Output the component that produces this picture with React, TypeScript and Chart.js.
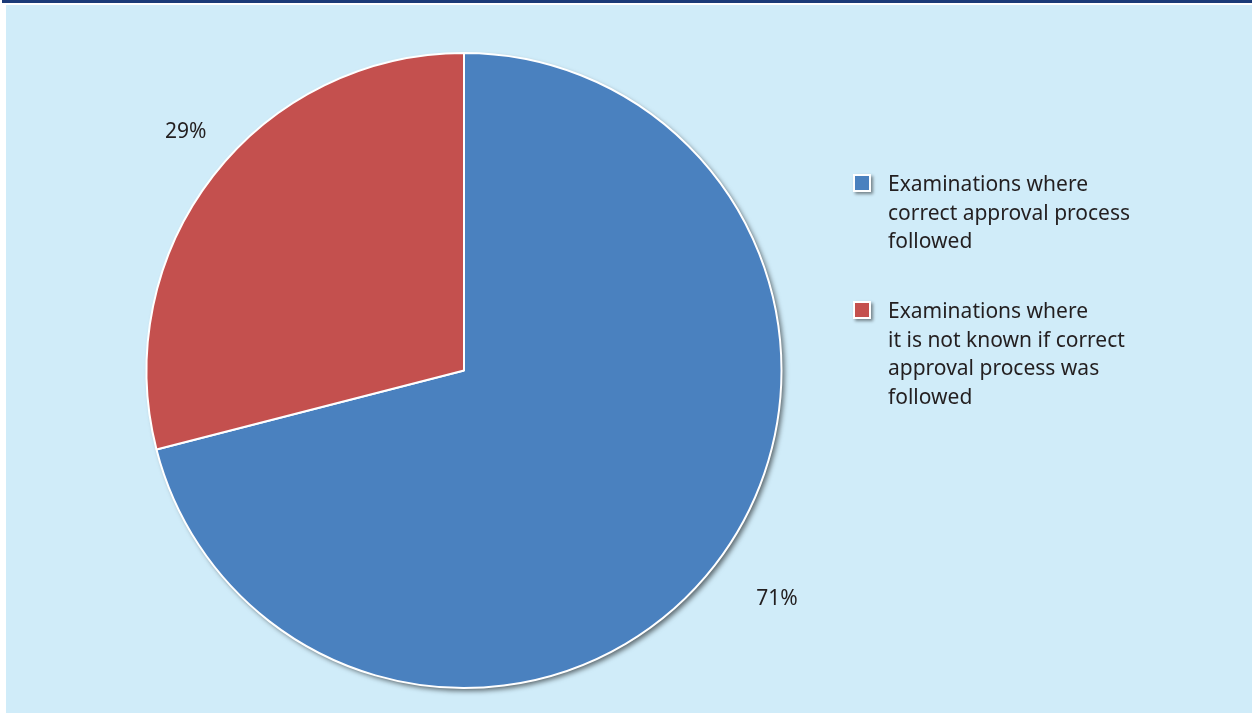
import React, { useEffect, useRef } from "react";
import { Chart, registerables } from "chart.js";

Chart.register(...registerables);

const categories: string[][] = [
  ["Examinations where", "correct approval process", "followed"],
  ["Examinations where", "it is not known if correct", "approval process was", "followed"],
];
const values: number[] = [71, 29];
const valueLabels: string[] = ["71%", "29%"];
const colors: string[] = ["#4A81BF", "#C4504E"];

const FONT = "'Noto Sans', sans-serif";
const LABEL_RADIUS_FACTORS = [1.22, 1.155];
const LABEL_ANGLE_NUDGE = [-0.03, 0.05];

const shadowPlugin = {
  id: "pieShadow",
  beforeDatasetsDraw(chart: any) {
    const meta = chart.getDatasetMeta(0);
    const arc = meta.data[0];
    if (!arc) return;
    const { x, y, outerRadius } = arc.getProps(["x", "y", "outerRadius"], true);
    const ctx = chart.ctx;
    ctx.save();
    ctx.shadowColor = "rgba(0,0,0,0.55)";
    ctx.shadowBlur = 5;
    ctx.shadowOffsetX = 3;
    ctx.shadowOffsetY = 3;
    ctx.beginPath();
    ctx.arc(x, y, outerRadius, 0, Math.PI * 2);
    ctx.fillStyle = "#ffffff";
    ctx.fill();
    ctx.restore();
  },
};

const outsideLabels = {
  id: "outsideLabels",
  afterDatasetsDraw(chart: any) {
    const meta = chart.getDatasetMeta(0);
    const ctx = chart.ctx;
    ctx.save();
    ctx.font = `21px ${FONT}`;
    ctx.fillStyle = "#231f20";
    ctx.textAlign = "center";
    ctx.textBaseline = "middle";
    meta.data.forEach((arc: any, i: number) => {
      const { x, y, startAngle, endAngle, outerRadius } = arc.getProps(
        ["x", "y", "startAngle", "endAngle", "outerRadius"],
        true
      );
      const mid = (startAngle + endAngle) / 2 + LABEL_ANGLE_NUDGE[i];
      const r = outerRadius * LABEL_RADIUS_FACTORS[i];
      ctx.fillText(valueLabels[i], x + Math.cos(mid) * r, y + Math.sin(mid) * r);
    });
    ctx.restore();
  },
};

export default function App() {
  const ref = useRef<HTMLCanvasElement | null>(null);
  useEffect(() => {
    document.body.style.margin = "0";
    if (!ref.current) return;
    const chart = new Chart(ref.current, {
      type: "pie",
      data: {
        labels: categories.map((c) => c.join(" ")),
        datasets: [
          {
            data: values,
            backgroundColor: colors,
            borderColor: "#ffffff",
            borderWidth: 2,
          },
        ],
      },
      options: {
        animation: false,
        responsive: false,
        maintainAspectRatio: false,
        layout: { padding: { left: 139, top: 47, right: 469, bottom: 24 } },
        plugins: {
          legend: { display: false },
          tooltip: { enabled: false },
        },
      },
      plugins: [shadowPlugin, outsideLabels],
    });
    return () => chart.destroy();
  }, []);

  const legendTops = [170, 297];

  return (
    <div style={{ position: "fixed", left: 0, top: 0, width: 1256, height: 713, background: "#ffffff", overflow: "hidden" }}>
      <div style={{ position: "absolute", left: 2, top: 0, width: 1250, height: 3, background: "#1b3a78" }} />
      <div style={{ position: "absolute", left: 6, top: 5, width: 1246, height: 708, background: "#D0ECF9" }}>
        <canvas ref={ref} width={1246} height={708} style={{ position: "absolute", left: 0, top: 0 }} />
      </div>
      {categories.map((lines, i) => (
        <div key={i} style={{ position: "absolute", left: 853, top: legendTops[i] }}>
          <div
            style={{
              position: "absolute",
              left: 0,
              top: 4,
              width: 14,
              height: 14,
              background: colors[i],
              border: "2px solid #ffffff",
              boxShadow: "2px 2px 3px rgba(0,0,0,0.45)",
            }}
          />
          <div
            style={{
              position: "absolute",
              left: 35,
              top: -1,
              fontFamily: FONT,
              fontSize: 21,
              lineHeight: "28.5px",
              color: "#231f20",
              whiteSpace: "nowrap",
            }}
          >
            {lines.map((l, j) => (
              <div key={j}>{l}</div>
            ))}
          </div>
        </div>
      ))}
    </div>
  );
}
